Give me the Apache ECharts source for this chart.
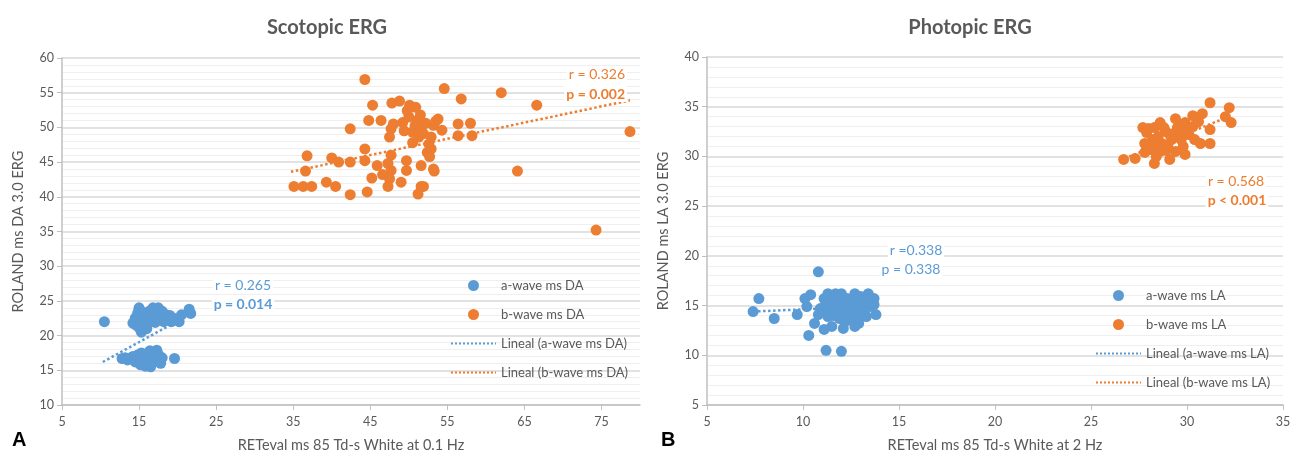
<!DOCTYPE html>
<html lang="en">
<head>
    <meta charset="UTF-8">
    <title>ERG</title>
    <script src="https://cdn.jsdelivr.net/npm/echarts@6/dist/echarts.min.js"></script>
</head>
<body style="margin:0">
    <div id="main" style="width: 1301px;height: 460px;"></div>
    <script>
        // Scotopic ERG (panel A)
        var aWaveDA = [
            [10.5, 22], [14.2, 21.8], [14.5, 22.5], [14.8, 23.2], [15, 24], [15.2, 22], [15.3, 20.5], [15.5, 21.5],
            [15.7, 23], [16, 22.5], [16.3, 23.5], [16.5, 22], [16.8, 24], [17, 22.8], [17.3, 23.2], [17.5, 24],
            [17.7, 22.3], [18, 23.5], [18.2, 22], [18.5, 23], [18.8, 22.5], [19.2, 22], [19.5, 22.5], [20.2, 22],
            [20.5, 23], [21.5, 23.8], [21.7, 23.2], [15, 23.8], [14.6, 21.5], [16, 21], [16.6, 23.5],
            [14.9, 22.8], [15.4, 23.4], [15.9, 21.8], [16.2, 22.9], [17.1, 21.9], [18.6, 22.2], [19.0, 22.9], [15.1, 21.0],
            [12.8, 16.7], [13.5, 16.5], [14, 16.8], [14.5, 16.2], [14.8, 17.2], [15, 16.5], [15.3, 17.5], [15.5, 16],
            [15.8, 15.6], [16, 17], [16.2, 16.3], [16.4, 17.8], [16.7, 16.8], [17, 16.2], [17.3, 17.9], [17.6, 16.5],
            [17.8, 16], [18, 16.8], [15.2, 15.8], [14.2, 17], [19.6, 16.7], [16.5, 15.5], [13.2, 16.8], [17.5, 17.3],
            [15.6, 17.1], [16.1, 15.9], [14.7, 16.6], [16.9, 17.3]
        ];
        var bWaveDA = [
            [44.3, 56.9], [54.6, 55.6], [62.0, 55.0], [56.8, 54.1], [66.6, 53.2], [45.3, 53.2], [47.8, 53.5], [48.8, 53.8],
            [50.1, 53.2], [50.9, 52.9], [44.8, 51.0], [46.4, 51.0], [42.4, 49.8], [47.7, 49.8], [49.2, 50.7], [50.0, 51.5],
            [51.1, 51.0], [53.8, 51.2], [53.2, 50.3], [56.4, 50.5], [58.0, 50.6], [56.4, 48.8], [58.2, 48.8], [78.7, 49.4],
            [47.5, 48.6], [51.3, 48.6], [52.9, 48.6], [52.6, 47.6], [52.4, 46.4], [49.4, 49.5], [50.5, 49.3], [51.6, 50.0],
            [51.9, 49.1], [44.3, 46.9], [36.8, 45.9], [40.0, 45.6], [40.9, 45.0], [42.4, 45.0], [44.3, 45.2], [45.9, 44.5],
            [47.7, 46.0], [47.3, 44.8], [49.7, 45.2], [49.7, 43.8], [51.6, 44.5], [53.2, 44.0], [53.3, 43.7], [64.1, 43.7],
            [36.6, 43.7], [45.2, 42.7], [46.6, 43.2], [47.7, 43.8], [47.5, 42.6], [49.0, 42.1], [47.3, 41.5], [51.6, 41.5],
            [51.2, 40.4], [42.4, 40.3], [44.6, 40.7], [35.1, 41.5], [36.3, 41.5], [37.4, 41.5], [39.3, 42.1], [40.5, 41.5],
            [74.3, 35.2], [51.9, 41.5], [54.3, 49.6], [53.5, 50.9], [52.9, 46.9], [48.0, 50.5], [50.8, 50.2], [51.5, 51.8],
            [52.2, 50.6], [49.8, 52.4], [50.5, 47.8], [52.7, 45.8]
        ];
        var trendAWaveDA = [[10.3, 16.2], [21.8, 23.2]];
        var trendBWaveDA = [[34.7, 43.6], [78.7, 53.9]];

        // Photopic ERG (panel B)
        var aWaveLA = [
            [7.4, 14.4], [7.7, 15.7], [8.5, 13.7], [9.7, 14.1], [10.1, 15.7], [10.4, 16.1], [10.2, 14.9], [10.8, 18.4],
            [10.3, 12.0], [10.6, 13.2], [11.1, 12.6], [11.5, 12.9], [11.2, 10.5], [12.0, 10.4], [10.8, 14.1], [11.1, 15.7],
            [11.3, 16.2], [12.0, 16.2], [12.7, 16.2], [13.4, 16.2], [13.7, 15.7], [13.8, 14.1], [13.2, 14.2], [12.7, 12.9],
            [12.2, 13.4], [11.7, 14.7], [12.2, 15.2], [12.9, 15.4], [13.2, 15.2], [11.9, 14.2], [11.3, 13.9], [12.4, 14.2],
            [13.5, 14.9], [11.6, 15.4], [12.3, 15.7], [13.0, 15.9], [11.1, 14.5], [11.9, 15.7], [12.8, 14.7], [13.7, 15.1],
            [10.9, 14.7], [12.5, 13.6], [13.4, 15.7], [12.1, 12.7], [11.7, 16.2], [12.9, 13.9],
            [11.4, 15.0], [11.8, 15.2], [12.0, 14.8], [12.5, 15.0], [12.6, 14.4], [13.1, 14.6], [11.5, 14.3], [12.2, 14.0],
            [12.4, 15.4], [13.0, 15.0], [11.9, 13.7], [12.7, 15.7], [13.3, 13.9], [11.2, 15.3], [12.9, 13.2], [11.6, 14.0]
        ];
        var bWaveLA = [
            [26.7, 29.7], [27.3, 29.8], [27.7, 32.9], [28.3, 32.9], [28.6, 33.4], [27.8, 31.3], [28.1, 30.7], [28.3, 29.3],
            [29.1, 29.7], [28.7, 31.3], [29.4, 33.8], [29.8, 31.0], [29.9, 30.2], [30.3, 34.1], [30.8, 34.3], [31.2, 35.4],
            [32.2, 34.9], [32.0, 34.0], [32.3, 33.4], [31.2, 32.7], [30.7, 31.3], [31.2, 31.3], [30.1, 32.2], [29.3, 32.3],
            [28.5, 32.0], [29.0, 31.0], [29.7, 31.7], [30.3, 33.0], [29.5, 32.9], [28.2, 31.7], [27.9, 32.4], [28.9, 32.5],
            [29.8, 32.5], [30.4, 31.7], [28.6, 30.5], [29.4, 30.5], [30.6, 33.5], [28.4, 30.0], [29.9, 33.4], [29.2, 31.7],
            [28.0, 32.8], [28.8, 32.9], [29.6, 33.2], [30.0, 32.9], [28.4, 31.2], [29.1, 32.2], [28.9, 30.6], [27.8, 30.4]
        ];
        var trendAWaveLA = [[7.4, 14.4], [13.9, 14.95]];
        var trendBWaveLA = [[26.5, 29.6], [32.3, 34.1]];

        var xTicksDA = [5, 15, 25, 35, 45, 55, 65, 75];

        var blue = '#5b9bd5';
        var orange = '#ed7d31';
        var grey = '#595959';
        var font = 'Lato';

        var chart = echarts.init(document.getElementById('main'));

        function xAxis(idx, min, max, name, ticks) {
            var ax = {
                type: 'value', gridIndex: idx, min: min, max: max,
                name: name, nameLocation: 'middle', nameGap: 33,
                nameTextStyle: { color: grey, fontSize: 14.5, fontFamily: font },
                axisLine: { show: true, lineStyle: { color: '#bfbfbf', width: 1.5 } },
                axisTick: { show: true, length: 5, lineStyle: { color: '#bfbfbf' } },
                axisLabel: { color: grey, fontSize: 12.5, fontFamily: font, margin: 10 },
                splitLine: { show: false }
            };
            if (ticks) {
                ax.axisLabel.customValues = ticks;
                ax.axisTick.customValues = ticks;
            } else {
                ax.interval = 5;
            }
            return ax;
        }

        function yAxis(idx, min, max, name) {
            return {
                type: 'value', gridIndex: idx, min: min, max: max, interval: 5,
                name: name, nameLocation: 'middle', nameGap: 36,
                nameTextStyle: { color: grey, fontSize: 14.5, fontFamily: font },
                axisLine: { show: true, lineStyle: { color: '#bfbfbf', width: 1.5 } },
                axisTick: { show: true, length: 5, lineStyle: { color: '#bfbfbf' } },
                axisLabel: { color: grey, fontSize: 12.5, fontFamily: font, margin: 8 },
                splitLine: { show: true, lineStyle: { color: '#d9d9d9', width: 1.5 } },
                minorTick: { show: false, splitNumber: 5 },
                minorSplitLine: { show: true, lineStyle: { color: '#efefef', width: 1 } }
            };
        }

        function scatter(name, idx, data, color) {
            return {
                type: 'scatter', name: name, xAxisIndex: idx, yAxisIndex: idx,
                data: data, symbolSize: 11, itemStyle: { color: color, opacity: 1 }
            };
        }

        function trend(name, idx, data, color) {
            return {
                type: 'line', name: name, xAxisIndex: idx, yAxisIndex: idx,
                data: data, symbol: 'none', z: 3,
                lineStyle: { color: color, type: 'dotted', width: 2.5 },
                itemStyle: { color: color }
            };
        }

        function legend(left, top, names) {
            return {
                orient: 'vertical', left: left, top: top, itemGap: 16,
                itemWidth: 45, itemHeight: 11,
                textStyle: { color: grey, fontSize: 13, fontFamily: font },
                data: [
                    { name: names[0], icon: 'circle' },
                    { name: names[1], icon: 'circle' },
                    { name: names[2], itemStyle: { opacity: 0 } },
                    { name: names[3], itemStyle: { opacity: 0 } }
                ]
            };
        }

        function label(x, y, text, color, bold, align) {
            return {
                type: 'text', x: x, y: y, z: 10,
                style: {
                    text: text, fill: color, fontSize: 14, fontFamily: font,
                    fontWeight: bold ? 'bold' : 'normal',
                    align: align || 'center', verticalAlign: 'middle',
                    backgroundColor: '#fff', padding: [1, 2]
                }
            };
        }

        var namesDA = ['a-wave ms DA', 'b-wave ms DA', 'Lineal (a-wave ms DA)', 'Lineal (b-wave ms DA)'];
        var namesLA = ['a-wave ms LA', 'b-wave ms LA', 'Lineal (a-wave ms LA)', 'Lineal (b-wave ms LA)'];

        var option = {
            animation: false,
            backgroundColor: '#fff',
            grid: [
                { left: 62, right: 661, top: 58, bottom: 55 },
                { left: 707, right: 18, top: 57, bottom: 55 }
            ],
            xAxis: [
                xAxis(0, 5, 80, 'RETeval ms 85 Td-s White at 0.1 Hz', xTicksDA),
                xAxis(1, 5, 35, 'RETeval ms 85 Td-s White at 2 Hz')
            ],
            yAxis: [
                yAxis(0, 10, 60, 'ROLAND ms DA 3.0 ERG'),
                yAxis(1, 5, 40, 'ROLAND ms LA 3.0 ERG')
            ],
            legend: [
                legend(445, 274, namesDA),
                legend(1090, 284, namesLA)
            ],
            series: [
                scatter(namesDA[0], 0, aWaveDA, blue),
                scatter(namesDA[1], 0, bWaveDA, orange),
                trend(namesDA[2], 0, trendAWaveDA, blue),
                trend(namesDA[3], 0, trendBWaveDA, orange),
                scatter(namesLA[0], 1, aWaveLA, blue),
                scatter(namesLA[1], 1, bWaveLA, orange),
                trend(namesLA[2], 1, trendAWaveLA, blue),
                trend(namesLA[3], 1, trendBWaveLA, orange)
            ],
            graphic: [
                { type: 'text', x: 327, y: 28, style: { text: 'Scotopic ERG', fill: grey, fontSize: 20, fontWeight: 'bold', fontFamily: font, align: 'center', verticalAlign: 'middle' } },
                { type: 'text', x: 970, y: 28, style: { text: 'Photopic ERG', fill: grey, fontSize: 20, fontWeight: 'bold', fontFamily: font, align: 'center', verticalAlign: 'middle' } },
                { type: 'text', x: 12, y: 440, style: { text: 'A', fill: '#000', fontSize: 20, fontWeight: 'bold', fontFamily: 'Liberation Sans', verticalAlign: 'middle' } },
                { type: 'text', x: 661, y: 440, style: { text: 'B', fill: '#000', fontSize: 20, fontWeight: 'bold', fontFamily: 'Liberation Sans', verticalAlign: 'middle' } },
                label(243, 285, 'r = 0.265', blue, false),
                label(243, 304, 'p = 0.014', blue, true),
                label(627, 74, 'r = 0.326', orange, false, 'right'),
                label(627, 94, 'p = 0.002', orange, true, 'right'),
                label(916, 250, 'r =0.338', blue, false),
                label(911, 269, 'p = 0.338', blue, false),
                label(1236, 181, 'r = 0.568', orange, false),
                label(1237, 200, 'p < 0.001', orange, true)
            ]
        };
        chart.setOption(option);
    </script>
</body>
</html>
